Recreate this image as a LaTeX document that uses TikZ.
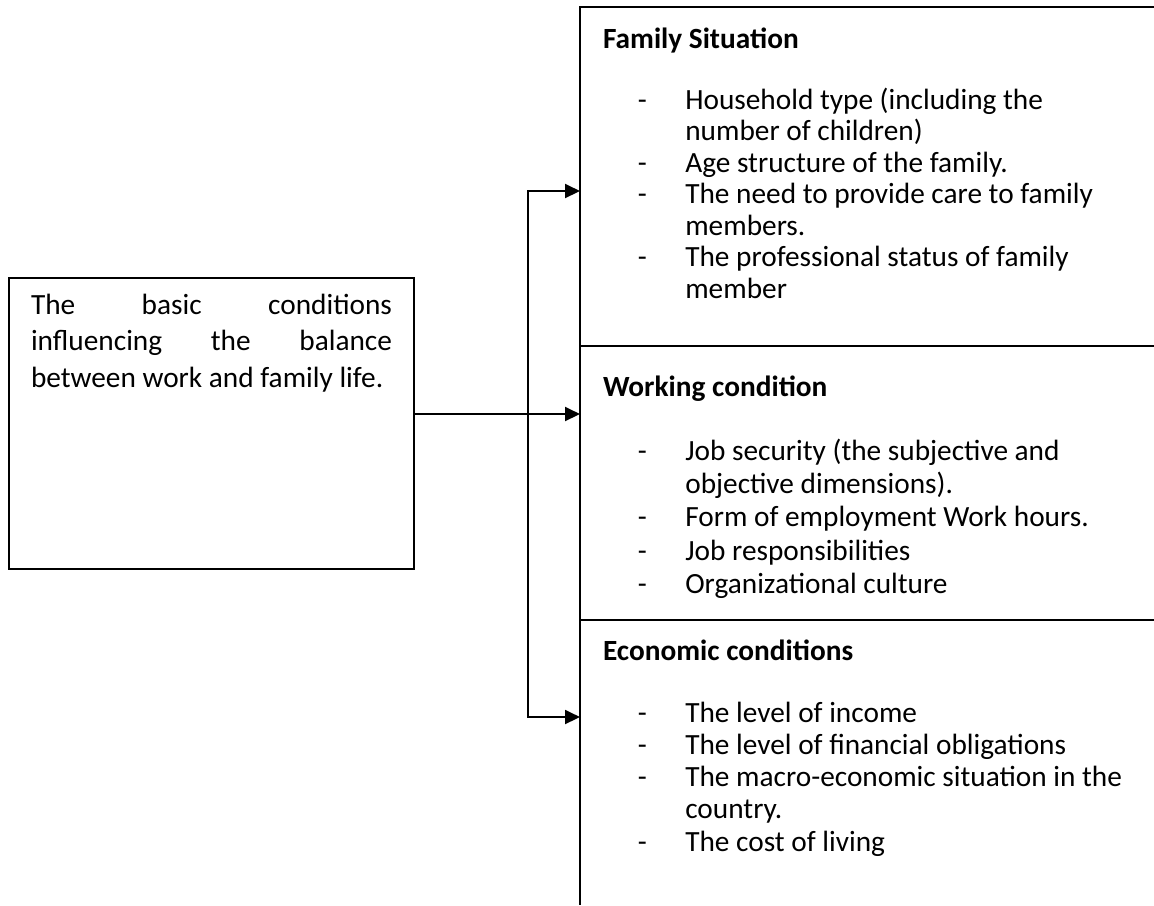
\documentclass[tikz,border=0pt]{standalone}
\usepackage{fontspec}
\setmainfont{Carlito}
\usetikzlibrary{arrows.meta}

\newlength\pxu
\setlength\pxu{0.4435pt}
\newcommand\dsh{\makebox[36.5pt][l]{\hspace{15.5pt}-}}
\newcommand\cont{\hspace*{36.5pt}}

\begin{document}
\begin{tikzpicture}[
  x=\pxu, y=-\pxu,
  line width=0.9pt,
  font=\fontsize{13}{14}\selectfont,
  condbox/.style={draw, anchor=north west, inner xsep=22\pxu, inner ysep=16\pxu},
  sect/.style={anchor=base west, inner sep=0pt},
  arr/.style={-{Triangle[length=6.65pt, width=6.2pt]}}
]
  \useasboundingbox (0,0) rectangle (1154,905);

  \node[condbox] (cond) at (8,277) {\begin{minipage}[t][259\pxu][t]{361\pxu}
    \fontsize{13}{16.2}\selectfont
    The\hfill basic\hfill conditions\\
    influencing\hfill the\hfill balance\\
    between work and family life.
  \end{minipage}};

  % right panel
  \draw (1154,7) -- (580,7) -- (580,905);
  \draw (580,346) -- (1154,346);
  \draw (580,620) -- (1154,620);

  \node[sect] (fam) at (602,48) {\fontsize{13}{13.97}\selectfont\begin{tabular}[t]{@{}l@{}}
    \textbf{Family Situation}\\[13.1pt]
    \dsh Household type (including the\\
    \cont number of children)\\
    \dsh Age structure of the family.\\
    \dsh The need to provide care to family\\
    \cont members.\\
    \dsh The professional status of family\\
    \cont member
  \end{tabular}};
  \node[sect] (work) at (602,396) {\fontsize{13}{14.75}\selectfont\begin{tabular}[t]{@{}l@{}}
    \textbf{Working condition}\\[13.8pt]
    \dsh Job security (the subjective and\\
    \cont objective dimensions).\\
    \dsh Form of employment Work hours.\\
    \dsh Job responsibilities\\
    \dsh Organizational culture
  \end{tabular}};
  \node[sect] (eco) at (602,660) {\fontsize{13}{14.2}\selectfont\begin{tabular}[t]{@{}l@{}}
    \textbf{Economic conditions}\\[13.7pt]
    \dsh The level of income\\
    \dsh The level of financial obligations\\
    \dsh The macro-economic situation in the\\
    \cont country.\\
    \dsh The cost of living
  \end{tabular}};

  \coordinate (famin) at (580,191);
  \coordinate (workin) at (580,414);
  \coordinate (ecoin) at (580,717);
  \coordinate (fork) at (528,414);
  \draw[arr] (cond.east |- workin) -- (workin);
  \draw[arr] (fork) |- (famin);
  \draw[arr] (fork) |- (ecoin);
\end{tikzpicture}
\end{document}
